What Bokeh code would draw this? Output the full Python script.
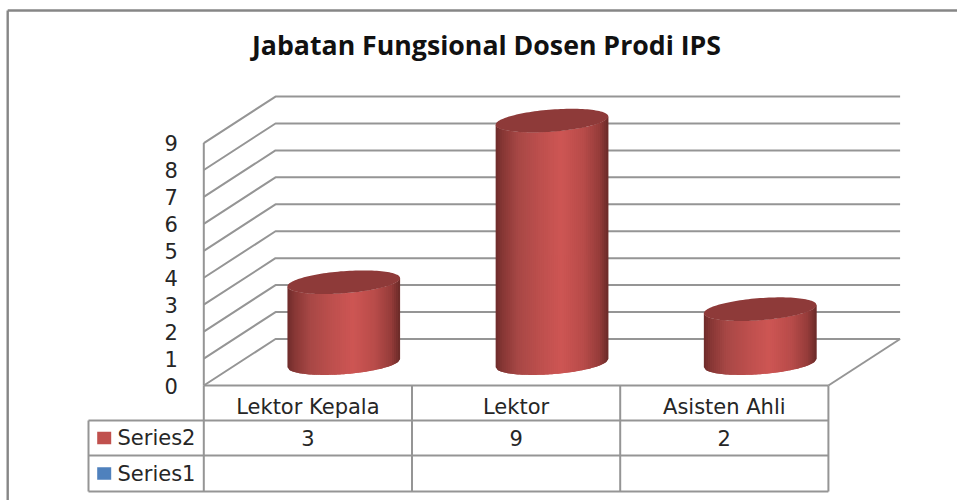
import numpy as np
from bokeh.plotting import figure
from bokeh.models import FixedTicker
from bokeh.core.properties import value
from bokeh.embed import file_html
from bokeh.resources import INLINE

# ---- data ----
TITLE = "Jabatan Fungsional Dosen Prodi IPS"
categories = ["Lektor Kepala", "Lektor", "Asisten Ahli"]
series2 = [3, 9, 2]
series1 = [None, None, None]
series_names = ["Series2", "Series1"]
y_ticks = [0, 1, 2, 3, 4, 5, 6, 7, 8, 9]

# ---- layout / style ----
FONT = "DejaVu Sans"
TITLE_FONT = "Open Sans"
LABEL_SIZE = "21px"
TXT = "#262626"
GRID = "#959595"
BORDER = "#868686"
SWATCH = ["#C0504D", "#4F81BD"]
TOP_COL = "#8E3A39"
W, H = 957, 500
X0, Y0 = 203.3, 385.0          # pixel of category 0 / value 0
BAND, UNIT = 208.2, 26.94      # pixels per category, pixels per unit
DEPTH_X, DEPTH_Y = 71.7, 46.5  # wall depth in pixels
LINE_W = 2.0


def sx(px):                    # pixel -> category coordinate
    return (px - X0) / BAND


def sy(px):                    # pixel -> value coordinate
    return (Y0 - px) / UNIT


dx = DEPTH_X / BAND
dy = DEPTH_Y / UNIT
n = len(categories)

p = figure(width=W, height=H, output_backend="svg", toolbar_location=None,
           x_range=(sx(0), sx(W)), y_range=(sy(H), sy(0)),
           min_border=0, min_border_left=0, min_border_right=0,
           min_border_top=0, min_border_bottom=0, outline_line_color=None)
p.grid.visible = False
p.xaxis.visible = False

# y axis, tick labels only
ax = p.yaxis[0]
ax.fixed_location = 0
ax.ticker = FixedTicker(ticks=y_ticks)
ax.axis_line_color = None
ax.major_tick_line_color = None
ax.minor_tick_line_color = None
ax.major_label_standoff = 20
ax.major_label_text_font = FONT
ax.major_label_text_font_size = LABEL_SIZE
ax.major_label_text_color = TXT

# chart border
bx, by = sx(7.2), sy(10)
p.multi_line([[bx, bx], [bx, sx(W)]], [[sy(H), by], [by, by]],
             line_color=BORDER, line_width=2.4)

# walls: left-wall and back-wall lines at each tick
xs, ys = [], []
for t in y_ticks:
    xs.append([0, dx, n + dx])
    ys.append([t, t + dy, t + dy])
p.multi_line(xs, ys, line_color=GRID, line_width=LINE_W)
top_tick = y_ticks[-1]
p.multi_line([[0, 0], [n, n + dx]], [[0, top_tick], [0, dy]],
             line_color=GRID, line_width=LINE_W)

# table grid
rows = [0, sy(420), sy(455), sy(491)]
lx = sx(88)
seg_x, seg_y = [[0, n]], [[rows[0], rows[0]]]
for r in rows[1:]:
    seg_x.append([lx, n]); seg_y.append([r, r])
for c in range(n + 1):
    seg_x.append([c, c]); seg_y.append([rows[0], rows[3]])
seg_x.append([lx, lx]); seg_y.append([rows[1], rows[3]])
p.multi_line(seg_x, seg_y, line_color=GRID, line_width=LINE_W)

# cylinders
A = 56.3 / BAND       # half width
B = 11.1 / UNIT       # vertical half axis
S = 4.15 / UNIT       # tilt of the ellipse at its right end
stops = [0.0, 0.06, 0.2, 0.4, 0.58, 0.78, 0.92, 1.0]
reds = [110, 135, 168, 190, 206, 184, 150, 105]
grns = [44, 55, 72, 80, 86, 76, 60, 42]
blus = [43, 53, 70, 78, 84, 74, 58, 40]
N = 56
for i, v in enumerate(series2):
    cx = i + 0.5 + dx / 2
    base = dy / 2 - 0.03
    edges = np.linspace(-1, 1, N + 1)
    sxs, sys, cols = [], [], []
    for j in range(N):
        # each strip runs under the next one, so no seams appear between them
        t = edges[j:min(j + 3, N + 1)]
        low = base + S * t - B * np.sqrt(1 - t * t)
        sxs.append(list(cx + A * t) + list(cx + A * t[::-1]))
        sys.append(list(low) + list((low + v)[::-1]))
        m = (edges[j] + edges[j + 1] + 2) / 4
        cols.append("#%02x%02x%02x" % (int(np.interp(m, stops, reds)),
                                       int(np.interp(m, stops, grns)),
                                       int(np.interp(m, stops, blus))))
    p.patches(sxs, sys, fill_color=cols, line_color=None)
    th = np.linspace(0, 2 * np.pi, 121)
    p.patch(cx + A * np.cos(th),
            base + v + S * np.cos(th) + B * np.sin(th),
            fill_color=TOP_COL, line_color=None)

# title
p.text([sx(486)], [sy(44)], text=[TITLE], text_font=value(TITLE_FONT),
       text_font_style="bold", text_font_size="26.7px", text_color="#111111",
       text_align="center", text_baseline="middle")

# table texts
centers = [i + 0.5 for i in range(n)]
p.text(centers, [sy(406)] * n, text=categories, text_font=value(FONT),
       text_font_size=LABEL_SIZE, text_color=TXT, text_align="center",
       text_baseline="middle")
p.text(centers, [sy(437.5)] * n, text=[str(v) for v in series2],
       text_font=value(FONT), text_font_size=LABEL_SIZE, text_color=TXT,
       text_align="center", text_baseline="middle")

# legend keys inside the table
for k, name in enumerate(series_names):
    cy = (rows[k + 1] + rows[k + 2]) / 2
    p.quad(left=[sx(96.7)], right=[sx(110.7)],
           bottom=[cy - 6.3 / UNIT], top=[cy + 6.3 / UNIT],
           fill_color=SWATCH[k], line_color=None)
    p.text([sx(117)], [cy], text=[name], text_font=value(FONT),
           text_font_size=LABEL_SIZE, text_color=TXT, text_align="left",
           text_baseline="middle")

open("out.html", "w").write(file_html(p, INLINE))
